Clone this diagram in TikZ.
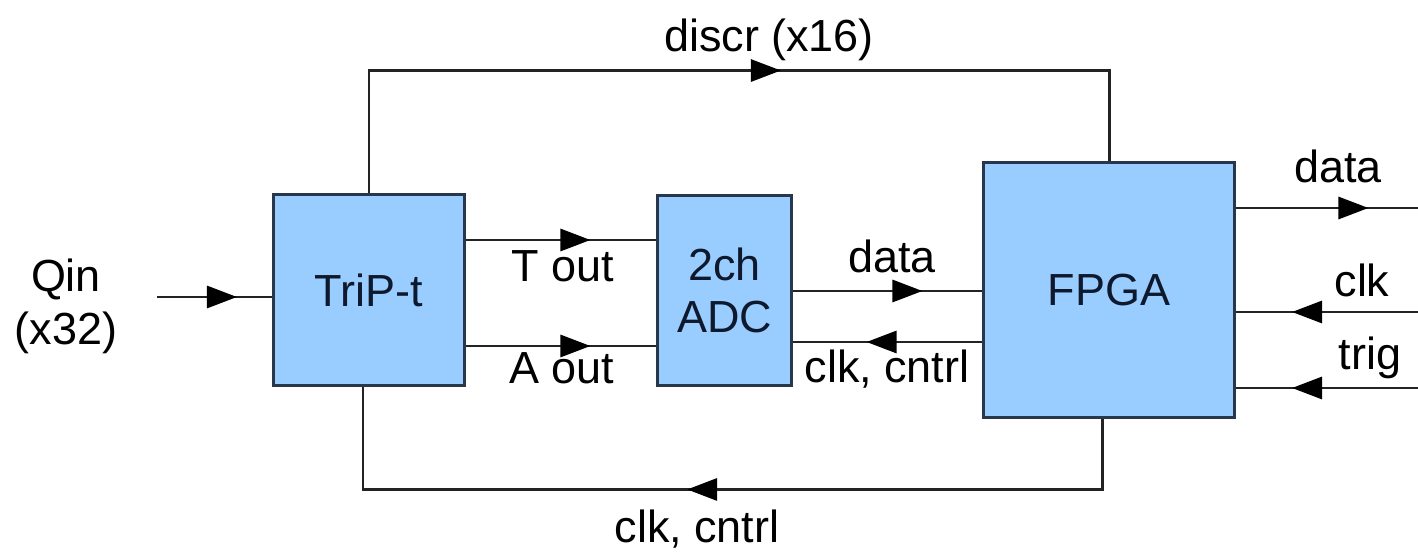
\documentclass[tikz,border=0pt]{standalone}
\usepackage{fontspec}
\setmainfont{Liberation Sans}
\usetikzlibrary{arrows.meta,decorations.markings}
\definecolor{boxblue}{RGB}{153,204,255}
\definecolor{boxedge}{RGB}{40,55,75}
\definecolor{boxtext}{RGB}{15,25,45}
\definecolor{wire}{RGB}{35,35,35}
\begin{document}
\begin{tikzpicture}[x=0.02cm,y=-0.02cm,
  every node/.style={font=\fontsize{25.6pt}{30pt}\selectfont},
  block node/.style={draw=boxedge,fill=boxblue,line width=1.7pt,text=boxtext,align=center},
  label node/.style={anchor=base,inner sep=0pt},
  signal/.style={draw=wire,line width=1.7pt,postaction={decorate},
    decoration={markings,mark=at position #1 with {\arrow[black]{Triangle[length=0.6cm,width=0.44cm]}}}}]

\useasboundingbox (0,0) rectangle (1418,553);

\node[block node, minimum width=3.84cm, minimum height=3.84cm] (trip) at (369,290) {TriP-t};
\node[block node, minimum width=2.7cm, minimum height=3.82cm] (adc) at (724.5,290.5) {2ch\\ADC};
\node[block node, minimum width=5.04cm, minimum height=5.12cm] (fpga) at (1109,290) {FPGA};

\coordinate (qin) at (157,297);
\coordinate (dataout) at (1418,208);
\coordinate (clkin) at (1418,312);
\coordinate (trigin) at (1418,388);

\node[label node] (qintext) at (66,292) {Qin};
\node[label node] (qincount) at (66,345) {(x32)};
\node[label node] (touttext) at (563,282) {T out};
\node[label node] (aouttext) at (562,384) {A out};
\node[label node] (datatext) at (892,273) {data};
\node[label node] (ctrltext) at (887,383) {clk, cntrl};
\node[label node] (discrtext) at (769,52) {discr (x16)};
\node[label node] (clkctrltext) at (697,543) {clk, cntrl};
\node[label node] (dataouttext) at (1338,183) {data};
\node[label node] (clkintext) at (1362,297) {clk};
\node[label node] (trigintext) at (1370,370) {trig};

\draw[signal=1.6cm] (qin) -- (trip.west |- qin);
\draw[signal=2.48cm] (trip.east |- 0,240) -- (adc.west |- 0,240);
\draw[signal=2.48cm] (trip.east |- 0,346) -- (adc.west |- 0,346);
\draw[signal=2.58cm] (adc.east |- 0,291) -- (fpga.west |- 0,291);
\draw[signal=2.3cm] (fpga.west |- 0,342) -- (adc.east |- 0,342);
\draw[signal=2.64cm] (fpga.east |- dataout) -- (dataout);
\draw[signal=2.52cm] (clkin) -- (clkin -| fpga.east);
\draw[signal=2.52cm] (trigin) -- (trigin -| fpga.east);
\draw[signal=10.68cm] (trip.north) -- ++(0,-122) -| (fpga.north);
\draw[signal=9.7cm] ([xshift=-0.14cm]fpga.south) -- ++(0,70) -| ([xshift=-0.12cm]trip.south);

\end{tikzpicture}
\end{document}
